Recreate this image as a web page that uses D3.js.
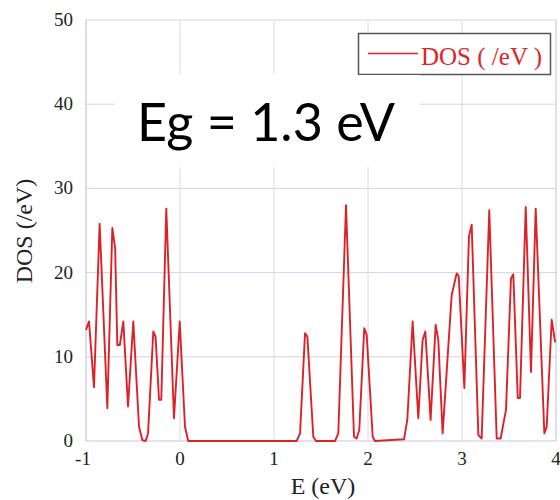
<!DOCTYPE html>
<html><head><meta charset="utf-8">
<script src="https://cdn.jsdelivr.net/npm/d3@7"></script>
<style>html,body{margin:0;padding:0;background:#fff;}svg{display:block;}</style>
</head><body>
<script>
const energy = [-1.00,-0.968,-0.915,-0.855,-0.773,-0.72,-0.69,-0.667,-0.64,-0.603,-0.553,-0.497,-0.436,-0.40,-0.365,-0.34,-0.284,-0.26,-0.223,-0.199,-0.146,-0.064,-0.003,0.053,0.088,
1.241,1.277,1.33,1.355,1.418,1.447,1.649,1.684,1.766,1.851,1.879,1.907,1.96,1.986,2.05,2.074,
2.383,2.418,2.475,2.535,2.581,2.61,2.666,2.72,2.748,2.794,2.89,2.943,2.965,3.025,3.074,3.103,3.174,3.209,3.29,3.369,3.411,3.468,3.521,3.546,3.593,3.617,3.678,3.734,3.784,3.876,3.901,3.954,3.99,4.0];
const dos = [13.2,14.2,6.4,25.8,3.9,25.3,22.9,11.4,11.4,14.2,4.1,14.2,1.7,0.1,0.0,0.9,13.0,12.4,4.9,4.9,27.6,2.7,14.2,1.7,0.0,
0.0,0.9,12.8,12.4,0.5,0.0,0.0,0.9,28.0,0.5,0.3,1.3,13.4,12.6,0.5,0.0,
0.2,2.5,14.2,2.7,12.0,13.0,2.5,13.8,12.0,0.9,17.3,19.9,19.6,6.3,24.3,25.7,0.7,0.3,27.4,0.3,0.3,3.7,19.3,19.8,5.1,5.1,27.8,8.2,27.6,0.9,1.7,14.4,11.8,11.8];
const xTicks = [-1,0,1,2,3,4];
const yTicks = [0,10,20,30,40,50];
const legendLabel = "DOS ( /eV )";
const annotation = "Eg = 1.3 eV";
const xTitle = "E (eV)";
const yTitle = "DOS (/eV)";

const W = 560, H = 500;
const svg = d3.select("body").append("svg").attr("width", W).attr("height", H);
const x = d3.scaleLinear().domain([-1,4]).range([86,556]);
const y = d3.scaleLinear().domain([0,50]).range([441,20]);
const serif = "'Liberation Serif','Times New Roman',serif";

// grid
svg.append("g").selectAll("line").data(yTicks.slice(1)).join("line")
  .attr("x1", x(-1)).attr("x2", x(4)).attr("y1", d=>y(d)).attr("y2", d=>y(d))
  .attr("stroke", "#d4d4e2").attr("stroke-width", 1);
svg.append("g").selectAll("line").data(xTicks.slice(1)).join("line")
  .attr("x1", d=>x(d)).attr("x2", d=>x(d)).attr("y1", y(0)).attr("y2", y(50))
  .attr("stroke", "#dadaf0").attr("stroke-width", 1);
// axes
svg.append("line").attr("x1", x(-1)).attr("x2", x(-1)).attr("y1", y(0)).attr("y2", y(50)).attr("stroke", "#c4c4e6").attr("stroke-width", 1.2);
svg.append("line").attr("x1", x(-1)).attr("x2", x(4)).attr("y1", y(0)).attr("y2", y(0)).attr("stroke", "#c4c4e6").attr("stroke-width", 1.2);
svg.append("line").attr("x1", x(4)).attr("x2", x(4)).attr("y1", y(0)).attr("y2", y(50)).attr("stroke", "#d0d0e0").attr("stroke-width", 1);

// tick labels
svg.append("g").selectAll("text").data(yTicks).join("text")
  .attr("x", 73).attr("y", d=>y(d)+6).attr("text-anchor","end")
  .attr("font-family", serif).attr("font-size", 19).attr("fill","#222").text(d=>d);
svg.append("g").selectAll("text").data(xTicks).join("text")
  .attr("x", d=>x(d) - (d<0?3:0)).attr("y", 465).attr("text-anchor","middle")
  .attr("font-family", serif).attr("font-size", 19).attr("fill","#222").text(d=>d);
// titles
svg.append("text").attr("x", 323).attr("y", 494).attr("text-anchor","middle")
  .attr("font-family", serif).attr("font-size", 24).attr("fill","#222").text(xTitle);
svg.append("text").attr("transform","translate(32,231) rotate(-90)").attr("text-anchor","middle")
  .attr("font-family", serif).attr("font-size", 24).attr("fill","#222").text(yTitle);

// curve
const line = d3.line().x((d,i)=>x(energy[i])).y((d,i)=>y(dos[i]));
svg.append("path").datum(dos).attr("d", line).attr("fill","none")
  .attr("stroke","#dc2228").attr("stroke-width",1.9).attr("stroke-linejoin","round");

// legend
const lg = svg.append("g");
lg.append("rect").attr("x",358.5).attr("y",33.5).attr("width",192).attr("height",41)
  .attr("fill","#fff").attr("stroke","#555").attr("stroke-width",1.5);
lg.append("line").attr("x1",368).attr("x2",418).attr("y1",53.5).attr("y2",53.5)
  .attr("stroke","#dc2228").attr("stroke-width",1.7);
lg.append("text").attr("x",421).attr("y",65).attr("font-family",serif).attr("font-size",25)
  .attr("fill","#e0242a").text(legendLabel);

// annotation box
svg.append("rect").attr("x",115).attr("y",75).attr("width",305).attr("height",92).attr("fill","#fff");
const t = svg.append("text").attr("x",0).attr("y",0)
  .attr("font-family","Lato, 'Open Sans', sans-serif").attr("font-size",52).attr("fill","#000").text(annotation);
const len = t.node().getComputedTextLength();
t.attr("transform", `translate(137,141) scale(${258/len},1)`);
</script>
</body></html>
